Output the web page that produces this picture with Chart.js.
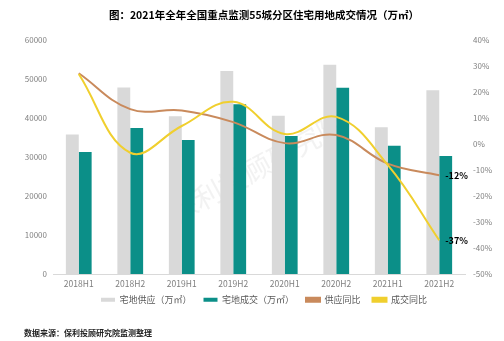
<!DOCTYPE html>
<html lang="zh">
<head>
  <meta charset="UTF-8" />
  <title>2021年全年全国重点监测55城分区住宅用地成交情况</title>
  <script src="https://cdn.jsdelivr.net/npm/chart.js"></script>
  <style>
    html, body { margin: 0; padding: 0; background: #fff; }
    #wrap { width: 504px; height: 341px; position: relative; }
  </style>
</head>
<body>
  <div id="wrap"><canvas id="landChart"></canvas></div>

  <script>
    // data
    const periods = ['2018H1', '2018H2', '2019H1', '2019H2', '2020H1', '2020H2', '2021H1', '2021H2'];
    const supplyArea = [35800, 47900, 40500, 52100, 40600, 53700, 37700, 47200];   // 宅地供应（万㎡）
    const dealArea = [31300, 37500, 34400, 43600, 35400, 47800, 32900, 30300];     // 宅地成交（万㎡）
    const supplyYoY = [27.3, 13.5, 13.0, 8.5, 0.4, 3.5, -7.5, -12];               // 供应同比 %
    const dealYoY = [27.0, -3.3, 7.0, 16.3, 3.9, 10.5, -8.0, -37];                // 成交同比 %
    const leftTicks = [0, 60000, 10000];   // min, max, step
    const rightTicks = [-50, 40, 10];

    const cjk = '"Noto Sans CJK SC", "Noto Sans", sans-serif';

    // labels on the last point of the two YoY lines
    const endLabels = {
      id: 'endLabels',
      afterDatasetsDraw(chart) {
        const ctx = chart.ctx;
        ctx.save();
        ctx.font = 'bold 9px ' + cjk;
        ctx.fillStyle = '#000';
        ctx.textAlign = 'left';
        ctx.textBaseline = 'middle';
        [2, 3].forEach(i => {
          const meta = chart.getDatasetMeta(i);
          const data = chart.data.datasets[i].data;
          const pt = meta.data[data.length - 1];
          ctx.fillText(Math.round(data[data.length - 1]) + '%', pt.x + 6, pt.y);
        });
        ctx.restore();
      }
    };

    // faint watermark
    const watermark = {
      id: 'watermark',
      beforeDatasetsDraw(chart) {
        const ctx = chart.ctx;
        ctx.save();
        ctx.translate(257, 168);
        ctx.rotate(-0.5);
        ctx.font = '28px ' + cjk;
        ctx.fillStyle = 'rgba(205,205,205,0.25)';
        ctx.textAlign = 'center';
        ctx.textBaseline = 'middle';
        ctx.fillText('保利投顾研究院', 0, 0);
        ctx.restore();
      }
    };

    // pull the legend up a little, closer to the axis labels
    const legendNudge = {
      id: 'legendNudge',
      afterLayout(chart) {
        const lg = chart.legend;
        if (!lg) return;
        lg.top -= 6;
        lg.bottom -= 6;
      }
    };

    new Chart(document.getElementById('landChart'), {
      data: {
        labels: periods,
        datasets: [
          {
            type: 'bar',
            label: '宅地供应（万㎡）',
            data: supplyArea,
            backgroundColor: '#d9d9d9',
            yAxisID: 'y',
            order: 2,
            categoryPercentage: 0.5,
            barPercentage: 1.0
          },
          {
            type: 'bar',
            label: '宅地成交（万㎡）',
            data: dealArea,
            backgroundColor: '#0b8f88',
            yAxisID: 'y',
            order: 2,
            categoryPercentage: 0.5,
            barPercentage: 1.0
          },
          {
            type: 'line',
            label: '供应同比',
            data: supplyYoY,
            borderColor: '#c98a5c',
            backgroundColor: '#c98a5c',
            borderWidth: 2,
            pointRadius: 0,
            tension: 0.4,
            yAxisID: 'y1',
            order: 1
          },
          {
            type: 'line',
            label: '成交同比',
            data: dealYoY,
            borderColor: '#f0cf2e',
            backgroundColor: '#f0cf2e',
            borderWidth: 2,
            pointRadius: 0,
            tension: 0.4,
            yAxisID: 'y1',
            order: 0
          }
        ]
      },
      options: {
        responsive: true,
        maintainAspectRatio: false,
        animation: false,
        layout: { padding: { left: 24, right: 0, top: 0, bottom: 0 } },
        plugins: {
          title: {
            display: true,
            text: '图：2021年全年全国重点监测55城分区住宅用地成交情况（万㎡）',
            color: '#000',
            font: { family: cjk, size: 10.5, weight: 'bold', lineHeight: 1.2 },
            padding: { top: 9, bottom: 18.7 }
          },
          subtitle: {
            display: true,
            position: 'bottom',
            align: 'start',
            text: '数据来源：保利投顾研究院监测整理',
            color: '#222',
            font: { family: cjk, size: 8, weight: 'bold', lineHeight: 1.2 },
            padding: { top: 8, bottom: 3.2 }
          },
          legend: {
            position: 'bottom',
            labels: {
              color: '#595959',
              font: { family: cjk, size: 9, lineHeight: 1.2 },
              boxWidth: 14,
              boxHeight: 4,
              padding: 12,
              sort: (a, b) => a.datasetIndex - b.datasetIndex
            }
          },
          tooltip: { enabled: false }
        },
        scales: {
          x: {
            grid: { display: false, drawTicks: false },
            border: { display: true, color: '#d9d9d9' },
            ticks: { color: '#7f7f7f', font: { family: cjk, size: 8.5, lineHeight: 1.2 }, padding: 5, maxRotation: 0 },
            afterFit(scale) { scale.height = 15.2; }
          },
          y: {
            position: 'left',
            min: leftTicks[0],
            max: leftTicks[1],
            grid: { display: false, drawTicks: false },
            border: { display: false },
            ticks: {
              stepSize: leftTicks[2],
              color: '#7f7f7f',
              font: { family: cjk, size: 8 },
              padding: 6,
              callback: v => String(v)
            },
            afterFit(scale) { scale.width = 29; }
          },
          y1: {
            position: 'right',
            min: rightTicks[0],
            max: rightTicks[1],
            grid: { display: false, drawTicks: false },
            border: { display: false },
            ticks: {
              stepSize: rightTicks[2],
              color: '#7f7f7f',
              font: { family: cjk, size: 8 },
              padding: 8,
              callback: v => v + '%'
            },
            afterFit(scale) { scale.width = 39; }
          }
        }
      },
      plugins: [watermark, endLabels, legendNudge]
    });
  </script>
</body>
</html>
